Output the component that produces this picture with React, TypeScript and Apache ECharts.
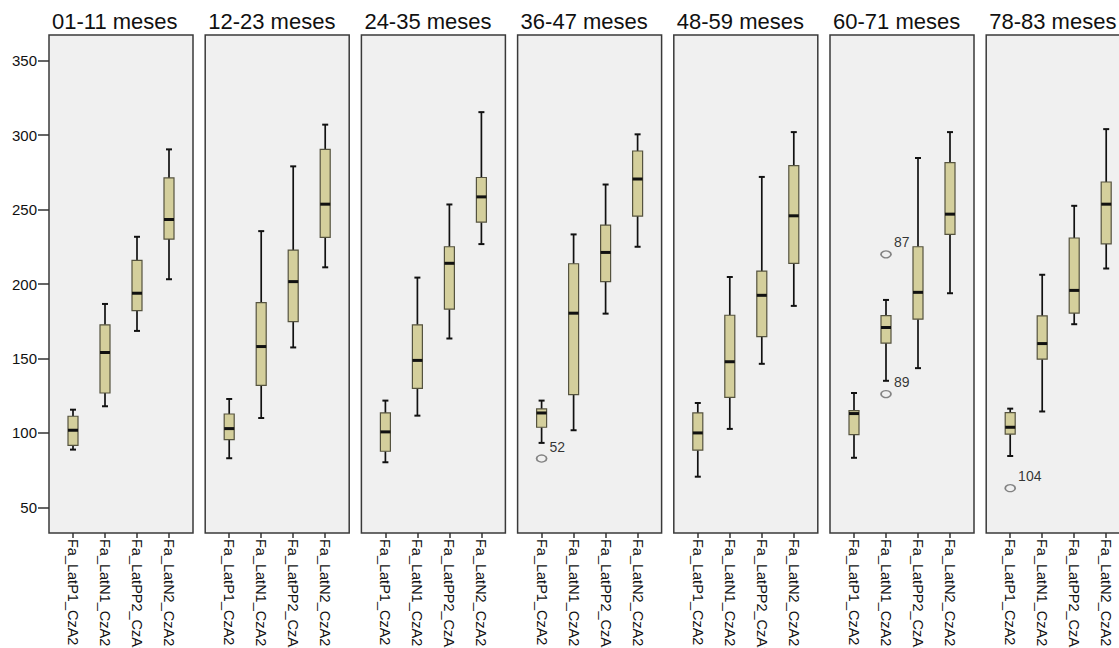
import React, { useEffect, useRef } from "react";
import * as echarts from "echarts";

const categories = ["Fa_LatP1_CzA2", "Fa_LatN1_CzA2", "Fa_LatPP2_CzA2", "Fa_LatN2_CzA2"];
const panelTitles = ["01-11 meses", "12-23 meses", "24-35 meses", "36-47 meses", "48-59 meses", "60-71 meses", "78-83 meses"];
const yTicks = [50, 100, 150, 200, 250, 300, 350];

// [min, Q1, median, Q3, max] per category
const p01_11 = [[88.8, 91.7, 101.8, 111.2, 115.6], [117.9, 126.8, 154, 172.6, 186.6], [168.5, 182.1, 193.8, 215.9, 231.7], [203.2, 230.2, 243.3, 271.2, 290.4]];
const p12_23 = [[83, 95.5, 102.9, 112.7, 122.8], [110, 131.9, 158, 187.5, 235.5], [157.4, 174.8, 201.6, 222.8, 279], [211.2, 231.3, 253.6, 290.4, 307]];
const p24_35 = [[80.3, 87.7, 100.7, 113.4, 121.7], [111.6, 129.9, 148.7, 172.6, 204.3], [163.4, 183.1, 213.9, 225, 253.4], [226.8, 241.5, 258.5, 271.5, 315.4]];
const p36_47 = [[93.3, 103.8, 113.4, 116.1, 121.7], [101.8, 125.7, 180.4, 213.6, 233.3], [180.1, 201.6, 221.2, 239.5, 266.8], [225, 245.6, 270.5, 289.3, 300.5]];
const p48_59 = [[70.6, 88.4, 100, 113.4, 120.1], [102.7, 123.9, 147.8, 179, 204.7], [146.4, 164.7, 192.4, 208.7, 271.9], [185.3, 213.9, 245.8, 279.5, 302]];
const p60_71 = [[83.3, 98.9, 113, 115, 126.8], [135, 160.3, 170.8, 178.8, 189.3], [143.5, 176.4, 194.4, 225, 284.6], [193.8, 233.3, 246.9, 281.5, 302]];
const p78_83 = [[84.5, 99.2, 103.8, 113.6, 116.3], [114.4, 149.5, 160, 178.6, 206.2], [173, 180.5, 195.7, 230.9, 252.5], [210.4, 227, 253.6, 268.5, 304]];
const panelData = [p01_11, p12_23, p24_35, p36_47, p48_59, p60_71, p78_83];

// [panel, category, value, case id]
const outliers: [number, number, number, string][] = [
  [3, 0, 82.8, "52"],
  [5, 1, 219.9, "87"],
  [5, 1, 126.1, "89"],
  [6, 0, 62.9, "104"],
];

const FONT = "'Liberation Sans', Arial, Helvetica, sans-serif";

export default function App() {
  const ref = useRef<HTMLDivElement>(null);
  useEffect(() => {
    if (!ref.current) return;
    const chart = echarts.init(ref.current, null, { renderer: "svg" });
    const panelLeft = (i: number) => 49 + i * 156.2;
    const grids: any[] = [];
    const xAxes: any[] = [];
    const yAxes: any[] = [];
    const series: any[] = [];
    const titles: any[] = [];
    panelTitles.forEach((t, i) => {
      grids.push({
        left: panelLeft(i),
        top: 35,
        width: 144,
        height: 498,
        containLabel: false,
        outerBoundsMode: "none",
        show: true,
        backgroundColor: "#f0f0f0",
        borderColor: "#3a3a3a",
        borderWidth: 1.5,
      });
      titles.push({
        text: t,
        left: panelLeft(i) + 3,
        top: 10,
        padding: 0,
        textStyle: { fontSize: 22, fontWeight: "normal", color: "#111", fontFamily: FONT },
      });
      xAxes.push({
        gridIndex: i,
        type: "value",
        min: -0.75,
        max: 3.75,
        axisLine: { show: false, onZero: false },
        splitLine: { show: false },
        axisTick: { show: true, customValues: [0, 1, 2, 3], length: 5, lineStyle: { color: "#333", width: 1.5 } },
        axisLabel: {
          show: true,
          customValues: [0, 1, 2, 3],
          rotate: -90,
          margin: 6,
          fontSize: 14.5,
          color: "#111",
          fontFamily: FONT,
          formatter: (v: number) => categories[Math.round(v)] ?? "",
        },
      });
      yAxes.push({
        gridIndex: i,
        type: "value",
        min: 32.8,
        max: 367.2,
        show: i === 0,
        axisLine: { show: false, onZero: false },
        splitLine: { show: false },
        axisTick: { show: i === 0, customValues: yTicks, length: 11, lineStyle: { color: "#333", width: 1.5 } },
        axisLabel: { show: i === 0, customValues: yTicks, margin: 12, fontSize: 15, color: "#111", fontFamily: FONT },
      });
      series.push({
        type: "custom",
        xAxisIndex: i,
        yAxisIndex: i,
        data: panelData[i].map((d, c) => [c, ...d]),
        encode: { x: 0, y: [1, 2, 3, 4, 5] },
        renderItem: (_p: any, api: any) => {
          const x = api.value(0);
          const lo = api.coord([x, api.value(1)]);
          const q1 = api.coord([x, api.value(2)]);
          const md = api.coord([x, api.value(3)]);
          const q3 = api.coord([x, api.value(4)]);
          const hi = api.coord([x, api.value(5)]);
          const cx = lo[0];
          const bw = 10;
          const cw = 3;
          const ws = { stroke: "#111", lineWidth: 1.7 };
          return {
            type: "group",
            children: [
              { type: "line", shape: { x1: cx, y1: hi[1], x2: cx, y2: q3[1] }, style: ws },
              { type: "line", shape: { x1: cx, y1: q1[1], x2: cx, y2: lo[1] }, style: ws },
              { type: "line", shape: { x1: cx - cw, y1: hi[1], x2: cx + cw, y2: hi[1] }, style: { stroke: "#111", lineWidth: 2 } },
              { type: "line", shape: { x1: cx - cw, y1: lo[1], x2: cx + cw, y2: lo[1] }, style: { stroke: "#111", lineWidth: 2 } },
              {
                type: "rect",
                shape: { x: cx - bw / 2, y: q3[1], width: bw, height: q1[1] - q3[1] },
                style: { fill: "#d4cf9c", stroke: "#55533f", lineWidth: 1.2 },
              },
              { type: "line", shape: { x1: cx - bw / 2, y1: md[1], x2: cx + bw / 2, y2: md[1] }, style: { stroke: "#111", lineWidth: 3 } },
            ],
          };
        },
      });
      const outs = outliers.filter((o) => o[0] === i);
      if (outs.length) {
        series.push({
          type: "scatter",
          xAxisIndex: i,
          yAxisIndex: i,
          symbol: "circle",
          symbolSize: [10, 7],
          itemStyle: { color: "rgba(0,0,0,0)", borderColor: "#666", borderWidth: 1.5 },
          data: outs.map((o) => [o[1], o[2], o[3]]),
          label: {
            show: true,
            position: "right",
            distance: 2,
            offset: [0, -12],
            fontSize: 14,
            color: "#000",
            fontFamily: FONT,
            formatter: (p: any) => p.data[2],
          },
        });
      }
    });
    chart.setOption({
      animation: false,
      backgroundColor: "#ffffff",
      title: titles,
      grid: grids,
      xAxis: xAxes,
      yAxis: yAxes,
      series,
    });
    return () => chart.dispose();
  }, []);
  return <div ref={ref} style={{ position: "fixed", left: 0, top: 0, width: 1119, height: 648 }} />;
}
